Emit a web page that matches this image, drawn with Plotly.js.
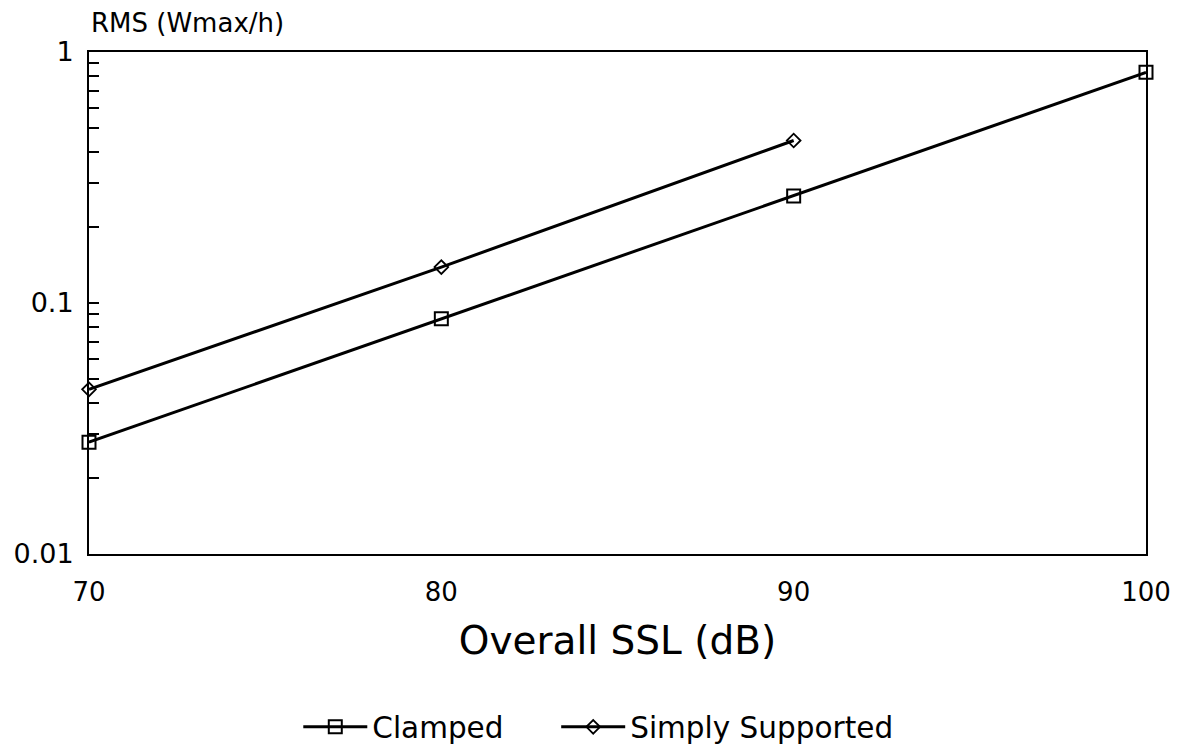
<!DOCTYPE html>
<html>
<head>
<meta charset="utf-8">
<script src="https://cdn.plot.ly/plotly-3.0.1.min.js"></script>
<style>html,body{margin:0;padding:0;background:#fff;}#chart{width:1182px;height:750px;}</style>
</head>
<body>
<div id="chart"></div>
<script>
const sslClamped = [70, 80, 90, 100];
const rmsClamped = [0.0279, 0.0865, 0.267, 0.83];
const sslSimply = [70, 80, 90];
const rmsSimply = [0.0453, 0.139, 0.444];
const xTickVals = [70, 80, 90, 100];
const yTickVals = [0.01, 0.1, 1];
const yTickText = ['0.01', '0.1', '1'];
const yMinorVals = [0.02,0.03,0.04,0.05,0.06,0.07,0.08,0.09,0.2,0.3,0.4,0.5,0.6,0.7,0.8,0.9];

const FONT = 'DejaVu Sans, sans-serif';
const traces = [
  {x: sslClamped, y: rmsClamped, name: 'Clamped', type: 'scatter', mode: 'lines+markers',
   line: {color: '#000', width: 3}, legend: 'legend',
   marker: {symbol: 'square-open', size: 13, color: '#000', line: {width: 2, color: '#000'}},
   cliponaxis: false},
  {x: sslSimply, y: rmsSimply, name: 'Simply Supported', type: 'scatter', mode: 'lines+markers',
   line: {color: '#000', width: 3}, legend: 'legend2',
   marker: {symbol: 'diamond-open', size: 10.5, color: '#000', line: {width: 1.8, color: '#000'}},
   cliponaxis: false}
];
const legendCommon = {orientation: 'h', y: -0.345, yanchor: 'middle', xanchor: 'left',
  font: {family: FONT, size: 29.5, color: '#000'}, itemwidth: 64, bgcolor: 'rgba(0,0,0,0)'};
const layout = {
  width: 1182, height: 750,
  margin: {l: 89, r: 36, t: 52, b: 196, autoexpand: false},
  paper_bgcolor: '#fff', plot_bgcolor: '#fff',
  font: {family: FONT, color: '#000'},
  showlegend: true,
  legend: Object.assign({}, legendCommon, {x: 0.198}),
  legend2: Object.assign({}, legendCommon, {x: 0.442}),
  xaxis: {range: [70, 100], tickmode: 'array', tickvals: xTickVals,
          showgrid: false, zeroline: false, showline: true, mirror: true,
          linecolor: '#000', linewidth: 2, ticks: '', ticklabelstandoff: 14,
          tickfont: {family: FONT, size: 26, color: '#000'},
          title: {text: 'Overall SSL (dB)', font: {family: FONT, size: 39, color: '#000'}, standoff: 20}},
  yaxis: {type: 'log', range: [-2, 0], tickmode: 'array', tickvals: yTickVals, ticktext: yTickText,
          showgrid: false, zeroline: false, showline: true, mirror: true,
          linecolor: '#000', linewidth: 2, ticks: 'inside', ticklen: 10, tickwidth: 2, tickcolor: '#000',
          ticklabelstandoff: 8,
          minor: {tickmode: 'array', tickvals: yMinorVals, ticks: 'inside', ticklen: 10, tickwidth: 2, tickcolor: '#000', showgrid: false},
          tickfont: {family: FONT, size: 27, color: '#000'}},
  annotations: [{text: 'RMS (Wmax/h)', xref: 'paper', yref: 'paper', x: 0, y: 1, xanchor: 'left', yanchor: 'bottom',
                 yshift: 12, showarrow: false, font: {family: FONT, size: 26, color: '#000'}}]
};
Plotly.newPlot('chart', traces, layout, {displayModeBar: false, staticPlot: true});
</script>
</body>
</html>
